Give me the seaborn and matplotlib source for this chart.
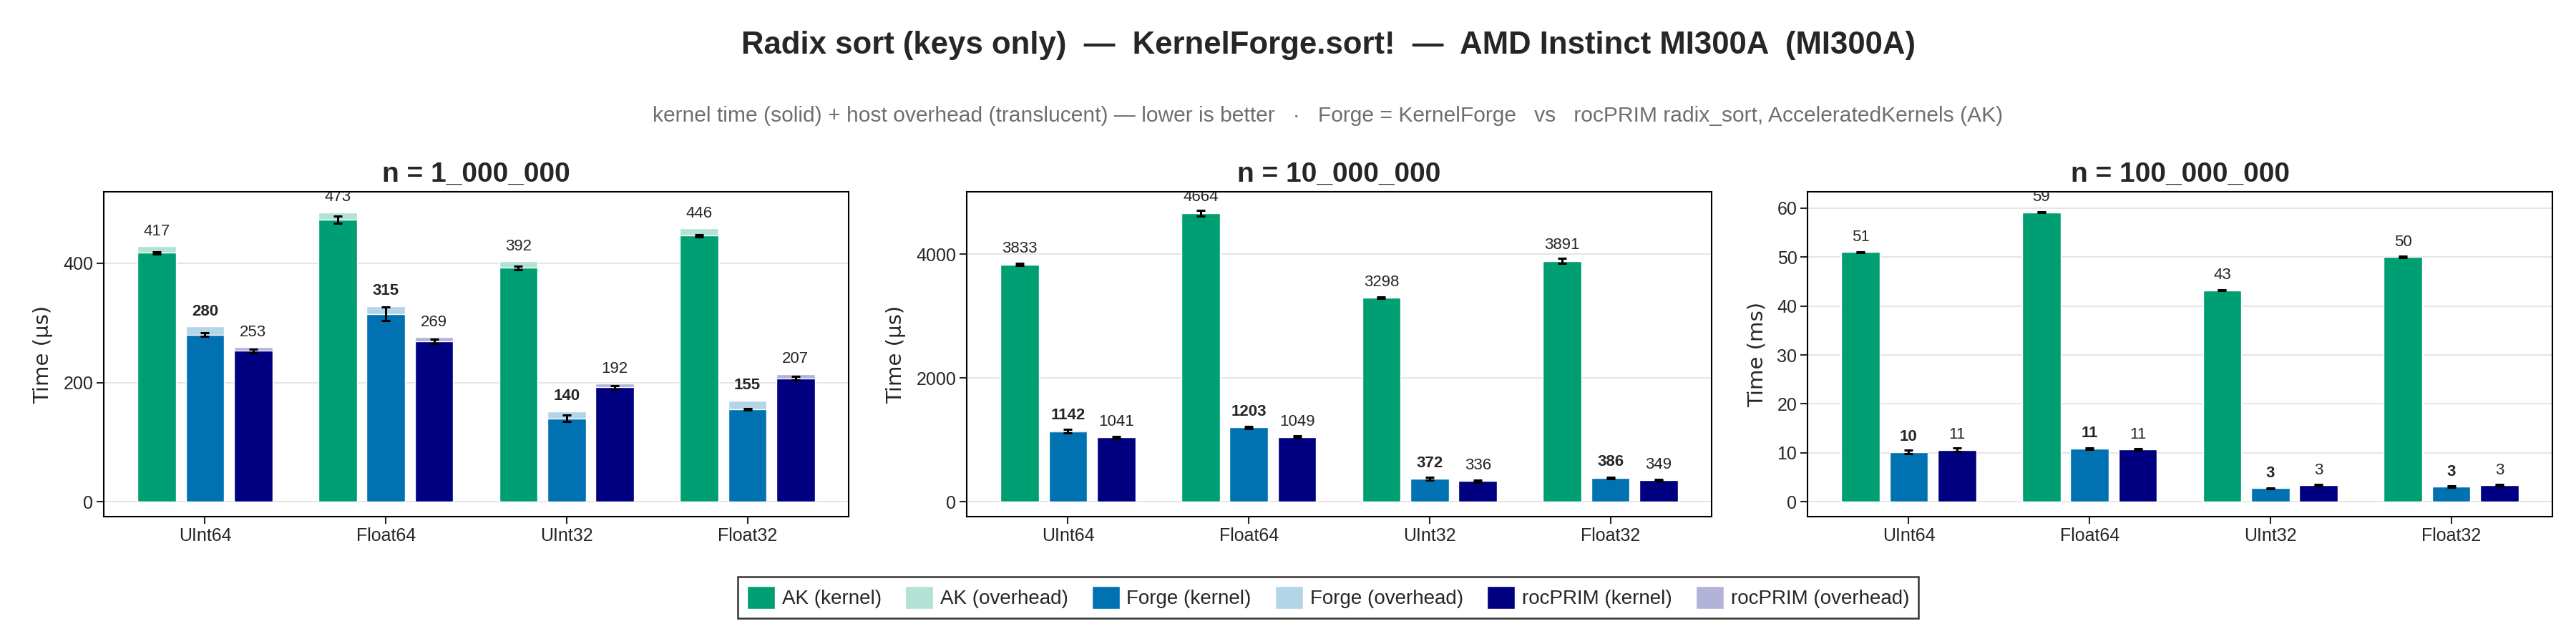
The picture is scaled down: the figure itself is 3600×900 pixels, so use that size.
import numpy as np
import pandas as pd
import matplotlib
matplotlib.use('Agg')
import matplotlib.pyplot as plt
from matplotlib.patches import Patch
from matplotlib.ticker import MultipleLocator
from matplotlib.colors import to_rgb
import seaborn as sns

sns.set_style('ticks')
plt.rcParams['font.family'] = ['Liberation Sans', 'DejaVu Sans']

# ---- data ----
types = ['UInt64', 'Float64', 'UInt32', 'Float32']
impls = ['AK', 'Forge', 'rocPRIM']
panel_titles = ['n = 1_000_000', 'n = 10_000_000', 'n = 100_000_000']
units = ['µs', 'µs', 'ms']

# n = 1_000_000 (µs)
kernel_1m = {'AK': [417, 473, 392, 446], 'Forge': [280, 315, 140, 155], 'rocPRIM': [253, 269, 192, 207]}
over_1m = {'AK': [11, 12, 11, 12], 'Forge': [14, 13, 12, 15], 'rocPRIM': [6, 7, 6, 7]}
err_1m = {'AK': [2, 6, 3, 2], 'Forge': [3, 11, 5, 1.5], 'rocPRIM': [3, 4, 3, 3]}

# n = 10_000_000 (µs)
kernel_10m = {'AK': [3833, 4664, 3298, 3891], 'Forge': [1142, 1203, 372, 386], 'rocPRIM': [1041, 1049, 336, 349]}
over_10m = {'AK': [12, 13, 12, 12], 'Forge': [14, 13, 12, 14], 'rocPRIM': [7, 7, 6, 7]}
err_10m = {'AK': [15, 48, 15, 40], 'Forge': [30, 15, 20, 15], 'rocPRIM': [20, 20, 15, 15]}

# n = 100_000_000 (ms)
kernel_100m = {'AK': [51.0, 59.1, 43.2, 50.0], 'Forge': [10.2, 10.9, 2.8, 3.1], 'rocPRIM': [10.6, 10.7, 3.4, 3.4]}
over_100m = {'AK': [0.01, 0.01, 0.01, 0.01], 'Forge': [0.01, 0.01, 0.01, 0.01], 'rocPRIM': [0.01, 0.01, 0.01, 0.01]}
err_100m = {'AK': [0.1, 0.1, 0.1, 0.1], 'Forge': [0.35, 0.15, 0.1, 0.1], 'rocPRIM': [0.35, 0.15, 0.1, 0.1]}

panels = [(kernel_1m, over_1m, err_1m), (kernel_10m, over_10m, err_10m), (kernel_100m, over_100m, err_100m)]
ytick_step = [200, 2000, 10]

kernel_colors = {'AK': '#009E73', 'Forge': '#0072B2', 'rocPRIM': '#000080'}


def lighten(c, a=0.3):
    r, g, b = to_rgb(c)
    return (1 - a + a * r, 1 - a + a * g, 1 - a + a * b)


over_colors = {k: lighten(v) for k, v in kernel_colors.items()}

fig = plt.figure(figsize=(36, 9), dpi=100)
W, H = 3600, 900
ax_lefts = [145, 1351, 2526]
ax_w = 1041
ax_top, ax_bot = 268, 722

for p, (kern, over, err) in enumerate(panels):
    ax = fig.add_axes([ax_lefts[p] / W, 1 - ax_bot / H, ax_w / W, (ax_bot - ax_top) / H])
    rows = []
    for impl in impls:
        for i, t in enumerate(types):
            rows.append({'type': t, 'impl': impl, 'kernel': kern[impl][i],
                         'total': kern[impl][i] + over[impl][i]})
    df = pd.DataFrame(rows)

    ax.set_axisbelow(True)
    ax.grid(True, color='#e3e3e3', lw=1.3)
    sns.barplot(data=df, x='type', y='total', hue='impl', hue_order=impls, order=types,
                palette=over_colors, saturation=1, gap=0.2, errorbar=None, legend=False, ax=ax)
    sns.barplot(data=df, x='type', y='kernel', hue='impl', hue_order=impls, order=types,
                palette=kernel_colors, saturation=1, gap=0.2, errorbar=None, legend=False, ax=ax)

    # kernel containers are the last three
    for h, cont in enumerate(ax.containers[-3:]):
        impl = impls[h]
        for bar in cont:
            xc = bar.get_x() + bar.get_width() / 2
            i = int(round(xc))
            k = kern[impl][i]
            tot = k + over[impl][i]
            ax.errorbar(xc, k, yerr=err[impl][i], color='black', lw=2.2, capsize=4.5,
                        capthick=2.2, zorder=5)
            ax.annotate(f'{k:.0f}', (xc, tot), xytext=(0, 15), textcoords='offset points',
                        ha='center', va='center', fontsize=16,
                        fontweight='bold' if impl == 'Forge' else 'normal',
                        clip_on=True, zorder=6)

    hi = 1.02 * max(df['total'])
    ax.set_ylim(-0.05 * hi, 1.05 * hi)
    ax.set_xlim(-0.56, 3.56)
    ax.yaxis.set_major_locator(MultipleLocator(ytick_step[p]))
    ax.set_xlabel('')
    ax.set_ylabel(f'Time ({units[p]})', fontsize=21, family=['DejaVu Sans'], labelpad=10)
    ax.set_title(panel_titles[p], fontsize=28, fontweight='bold', pad=10)
    ax.tick_params(axis='both', labelsize=18, length=7, width=1.5, direction='out')
    for s in ax.spines.values():
        s.set_visible(True)
        s.set_color('black')
        s.set_linewidth(1.5)

cx = (145 + 2526 + ax_w) / 2 / W
fig.text(cx, 1 - 63 / H, 'Radix sort (keys only)  —  KernelForge.sort!  —  AMD Instinct MI300A  (MI300A)',
         ha='center', va='center', fontsize=31.5, fontweight='bold')
fig.text(cx, 1 - 162 / H,
         'kernel time (solid) + host overhead (translucent) — lower is better   ·   '
         'Forge = KernelForge   vs   rocPRIM radix_sort, AcceleratedKernels (AK)',
         ha='center', va='center', fontsize=21.6, color='#6e6e6e')

handles = []
for impl in impls:
    handles.append(Patch(facecolor=kernel_colors[impl], label=f'{impl} (kernel)'))
    handles.append(Patch(facecolor=over_colors[impl], label=f'{impl} (overhead)'))
leg = fig.legend(handles=handles, loc='center', bbox_to_anchor=(cx, 1 - 835 / H), ncol=6,
                 fontsize=20, frameon=True, fancybox=False, edgecolor='black',
                 handlelength=1.4, handleheight=1.4, handletextpad=0.35, columnspacing=1.2,
                 borderpad=0.45)
leg.get_frame().set_linewidth(1.8)

fig.savefig('out.png', dpi=100)
